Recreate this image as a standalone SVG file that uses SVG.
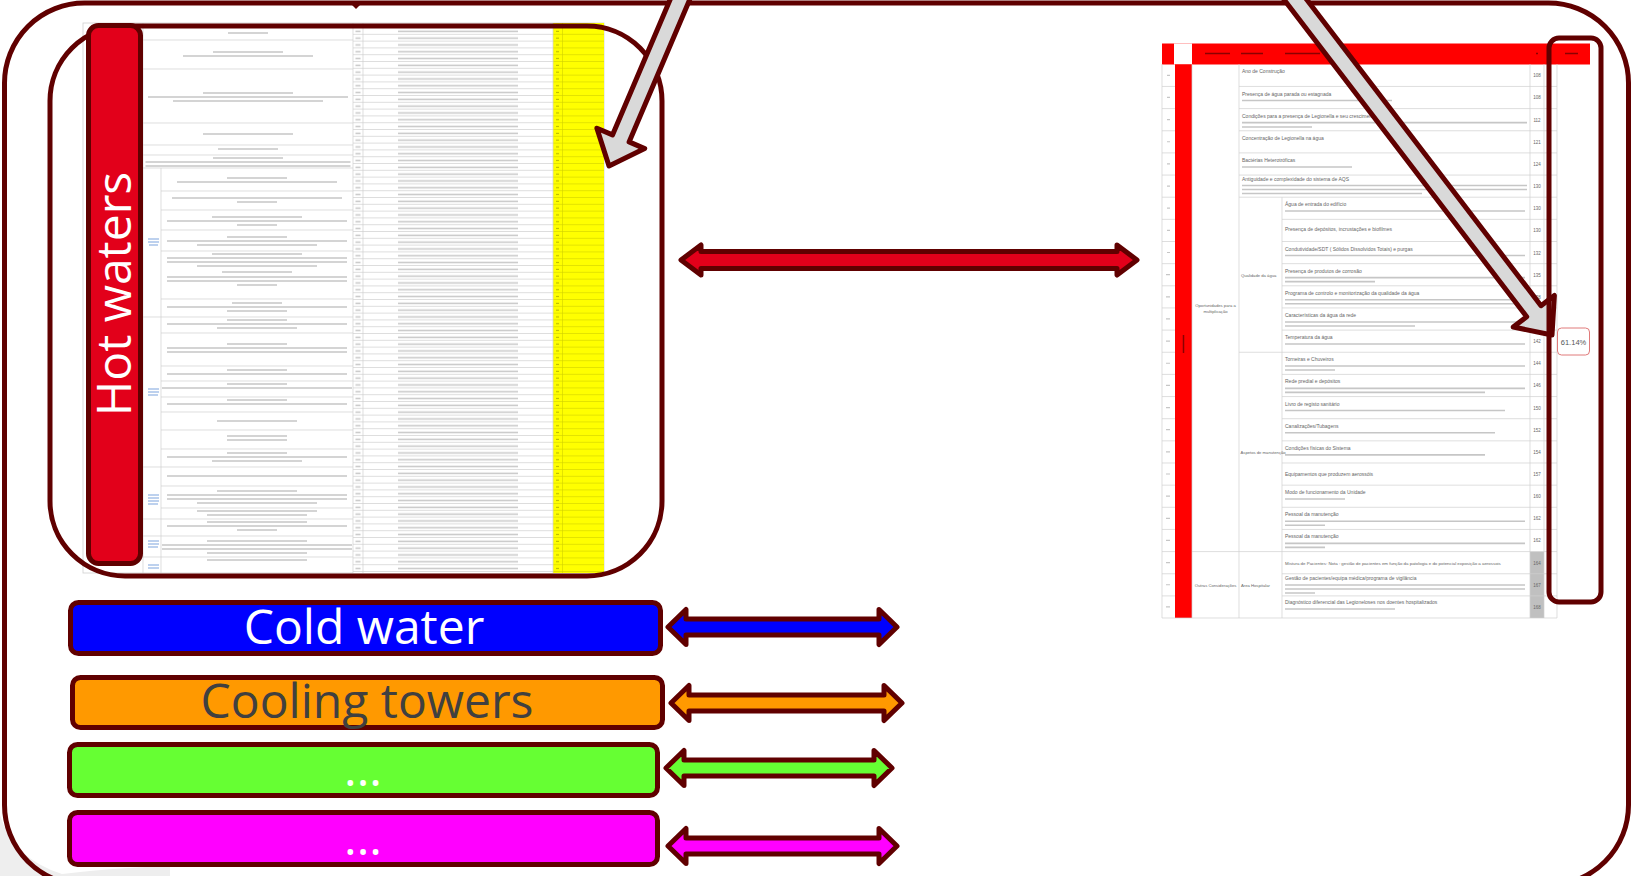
<svg xmlns="http://www.w3.org/2000/svg" width="1633" height="876" viewBox="0 0 1633 876">
<style>
.mar{stroke:#600000;stroke-width:5;stroke-linejoin:round}
.big{font-family:"Open Sans","Noto Sans","Liberation Sans",sans-serif;font-size:48px;text-anchor:middle}
.rt{font-family:"Liberation Sans",Arial,sans-serif;font-size:5px;fill:#666}
.lab{font-family:"Liberation Sans",Arial,sans-serif;font-size:4.2px;fill:#666}
.num{font-family:"Liberation Sans",Arial,sans-serif;font-size:4.5px;fill:#666;text-anchor:middle}
.grid{stroke:#d0d0d0;stroke-width:0.7;fill:none}
.blur{stroke:#c6c6c6;stroke-width:1.6;fill:none}
</style>
<defs>
<pattern id="rowsText" patternUnits="userSpaceOnUse" x="363" y="28" width="190" height="6.8">
<rect width="190" height="6.8" fill="#fff"/>
<rect y="6.2" width="190" height="0.6" fill="#c9c9c9"/>
<rect x="35" y="2.6" width="120" height="1.5" fill="#c8c8c8"/>
</pattern>
<pattern id="rowsNum" patternUnits="userSpaceOnUse" x="353" y="28" width="10" height="6.8">
<rect width="10" height="6.8" fill="#fff"/>
<rect y="6.2" width="10" height="0.6" fill="#c9c9c9"/>
<rect x="2.5" y="2.6" width="5" height="1.5" fill="#c8c8c8"/>
</pattern>
<pattern id="rowsYellow" patternUnits="userSpaceOnUse" x="553" y="28" width="51" height="6.8">
<rect width="51" height="6.8" fill="#ffff00"/>
<rect y="6.2" width="51" height="0.6" fill="#d2d200"/>
<rect x="3" y="2.8" width="3" height="1" fill="#b5b500"/>
<rect x="9" width="0.6" height="6.8" fill="#d2d200"/>
</pattern>
</defs>

<rect width="1633" height="876" fill="#fff"/>
<path d="M0,815 Q12,858 62,874 Q110,868 170,866 L170,876 L0,876 Z" fill="#eeeeee"/>

<g id="outer-frame">
<rect x="4.5" y="3" width="1624" height="882" rx="80" fill="none" class="mar"/>
<path d="M351,4 L361,4 L356,9 Z" fill="#600000"/>
</g>

<g id="sheet-hot-waters">
<rect x="83" y="23" width="521" height="550" fill="#fff" stroke="#cfcfcf" stroke-width="0.8"/>
<rect x="363" y="28" width="190" height="545" fill="url(#rowsText)"/>
<rect x="353" y="28" width="10" height="545" fill="url(#rowsNum)"/>
<rect x="553" y="23" width="51" height="550" fill="url(#rowsYellow)"/>
<path class="grid" d="M353 23V573 M363 23V573 M553 23V573 M161 168V573 M143 23V573
M143 40H353 M143 69H353 M143 123H353 M143 145H353 M143 155H353 M143 168H353
M161 191H353 M161 210H353 M161 230H353 M161 251H353 M161 299H353 M143 317H353 M161 333H353 M161 366H353 M161 381H353 M161 397H353 M161 412H353 M161 430H353 M161 449H353 M143 467H353 M161 486H353 M161 508H353 M143 519H353 M143 536H353 M143 557H353"/>
<path class="blur" d="M228 33h40 M213 52h70 M183 56h130 M203 93h90 M148 97h200 M173 101h150 M203 134h90 M218 149h60 M213 158h70 M145.5 162h205 M145.5 166h205
M227 178h60 M177 182h160 M172 198h170 M237 202h40 M212 217h90 M167 221h180 M237 225h40 M227 237h60 M167 241h180 M197 245h120
M212 254h90 M167 258h180 M167 262h180 M197 266h120 M222 272h70 M167 277h180 M167 281h180 M237 285h40 M232 303h50 M167 307h180 M227 311h60
M227 320h60 M167 324h180 M217 328h80 M227 344h60 M167 348h180 M167 352h180 M227 370h60 M167 374h180 M227 384h60 M162 388h190 M227 400h60 M167 404h180
M217 421h80 M227 436h60 M227 440h60 M227 453h60 M167 457h180 M212 461h90 M167 476h180 M217 491h80 M167 495h180 M167 499h180 M197 503h120
M197 511h120 M207 515h100 M207 522h100 M167 526h180 M237 530h40 M207 541h100 M162 545h190 M162 549h190 M207 553h100 M207 560h100"/>
<path d="M148 239h11 M148 242h11 M149 245h9 M148 389h11 M148 392h11 M148 395h10 M148 495h11 M148 498h11 M148 501h11 M148 504h10 M148 541h11 M148 544h11 M148 547h10 M148 565h11 M148 568h11" stroke="#7da3de" stroke-width="1.2" fill="none"/>
</g>

<g id="sheet-right">
<rect x="1162" y="43" width="428" height="575" fill="#fff"/>
<rect x="1162" y="43.5" width="428" height="21" fill="#ff0000"/>
<rect x="1174" y="43.5" width="18" height="21" fill="#fff"/>
<rect x="1175" y="64.3" width="17" height="553.7" fill="#ff0000"/>
<rect x="1530" y="551.6" width="14" height="66.4" fill="#c0c0c0"/>
<path d="M1205 53.5h25 M1241 53.5h22 M1285 53.5h35 M1536 53.5h2 M1565 53.5h13 M1183.5 335v18" stroke="#8b0000" stroke-width="1.5" fill="none"/>
<path class="grid" d="M1162 64V618 M1192 64V618 M1239 64V618 M1282 197.2V618 M1530 64V618 M1544 64V618 M1557 64V618
M1162 86.45H1175 M1162 108.6H1175 M1162 130.75H1175 M1162 152.9H1175 M1162 175.05H1175 M1162 197.2H1175 M1162 219.35H1175 M1162 241.5H1175 M1162 263.65H1175 M1162 285.8H1175 M1162 307.95H1175 M1162 330.1H1175 M1162 352.25H1175 M1162 374.4H1175 M1162 396.55H1175 M1162 418.7H1175 M1162 440.85H1175 M1162 463H1175 M1162 485.15H1175 M1162 507.3H1175 M1162 529.45H1175 M1162 551.6H1175 M1162 573.75H1175 M1162 595.9H1175
M1239 86.45H1557 M1239 108.6H1557 M1239 130.75H1557 M1239 152.9H1557 M1239 175.05H1557 M1239 197.2H1557
M1282 219.35H1557 M1282 241.5H1557 M1282 263.65H1557 M1282 285.8H1557 M1282 307.95H1557 M1282 330.1H1557 M1239 352.25H1557 M1282 374.4H1557 M1282 396.55H1557 M1282 418.7H1557 M1282 440.85H1557 M1282 463H1557 M1282 485.15H1557 M1282 507.3H1557 M1282 529.45H1557 M1192 551.6H1557 M1282 573.75H1557 M1282 595.9H1557 M1162 618H1557"/>
<path d="M1167 75.3h3 M1167 97.45h3 M1167 119.6h3 M1167 141.75h3 M1167 163.9h3 M1167 186.05h3 M1167 208.2h3 M1167 230.35h3 M1167 252.5h3 M1166 274.65h4 M1166 296.8h4 M1166 318.95h4 M1166 341.1h4 M1166 363.25h4 M1166 385.4h4 M1166 407.55h4 M1166 429.7h4 M1166 451.85h4 M1166 474h4 M1166 496.15h4 M1166 518.3h4 M1166 540.45h4 M1166 562.6h4 M1166 584.75h4 M1166 606.9h4" stroke="#c6c6c6" stroke-width="1.2" fill="none"/>
<path class="blur" d="M1242 100.5h150 M1242 122.6h285 M1242 127h70 M1242 167h110 M1242 185.5h285 M1242 189.5h285 M1242 193.5h180
M1285 211h240 M1285 255.5h240 M1285 277.6h240 M1285 281.6h90 M1285 299.8h240 M1285 303.8h240 M1285 322h240 M1285 326h130 M1285 344h240
M1285 366h240 M1285 370h50 M1285 388.4h240 M1285 392.4h200 M1285 410.5h220 M1285 432.7h210 M1285 454.9h200 M1285 499h60
M1285 521.3h240 M1285 525.3h40 M1285 543.4h240 M1285 547.4h40 M1285 585h240 M1285 589h240 M1285 593h30 M1285 609h110"/>
<text class="rt" x="1242" y="73">Ano de Construção</text>
<text class="rt" x="1242" y="95.5">Presença de água parada ou estagnada</text>
<text class="rt" x="1242" y="117.6">Condições para a presença de Legionella e seu crescimento</text>
<text class="rt" x="1242" y="139.8">Concentração de Legionella na água</text>
<text class="rt" x="1242" y="162">Bactérias Heterotróficas</text>
<text class="rt" x="1242" y="181">Antiguidade e complexidade do sistema de AQS</text>
<text class="rt" x="1285" y="206">Água de entrada do edifício</text>
<text class="rt" x="1285" y="231">Presença de depósitos, incrustações e biofilmes</text>
<text class="rt" x="1285" y="250.5">Condutividade/SDT ( Sólidos Dissolvidos Totais) e purgas</text>
<text class="rt" x="1285" y="272.6">Presença de produtos de corrosão</text>
<text class="rt" x="1285" y="294.8">Programa de controlo e monitorização da qualidade da água</text>
<text class="rt" x="1285" y="317">Características da água da rede</text>
<text class="rt" x="1285" y="339">Temperatura da água</text>
<text class="rt" x="1285" y="361">Torneiras e Chuveiros</text>
<text class="rt" x="1285" y="383.4">Rede predial e depósitos</text>
<text class="rt" x="1285" y="405.5">Livro de registo sanitário</text>
<text class="rt" x="1285" y="427.7">Canalizações/Tubagens</text>
<text class="rt" x="1285" y="449.9">Condições físicas do Sistema</text>
<text class="rt" x="1285" y="476">Equipamentos que produzem aerossóis</text>
<text class="rt" x="1285" y="494">Modo de funcionamento da Unidade</text>
<text class="rt" x="1285" y="516.3">Pessoal da manutenção</text>
<text class="rt" x="1285" y="538.4">Pessoal da manutenção</text>
<text class="rt" x="1285" y="564.6" style="font-size:4.4px">Mistura de Pacientes: Nota : gestão de pacientes em função da patologia e do potencial exposição a aerossois</text>
<text class="rt" x="1285" y="580">Gestão de pacientes/equipa médica/programa de vigilância</text>
<text class="rt" x="1285" y="604">Diagnóstico diferencial das Legioneloses nos doentes hospitalizados</text>
<text class="lab" x="1215.5" y="307" text-anchor="middle">Oportunidades para a</text>
<text class="lab" x="1215.5" y="312.5" text-anchor="middle">multiplicação</text>
<text class="lab" x="1241" y="276.5">Qualidade da água</text>
<text class="lab" x="1240.5" y="453.5">Aspetos de manutenção</text>
<text class="lab" x="1215.5" y="587" text-anchor="middle">Outras Considerações</text>
<text class="lab" x="1241" y="587">Área Hospitalar</text>
<text class="num" x="1537" y="77.3">108</text>
<text class="num" x="1537" y="99.45">108</text>
<text class="num" x="1537" y="121.6">112</text>
<text class="num" x="1537" y="143.75">121</text>
<text class="num" x="1537" y="165.9">124</text>
<text class="num" x="1537" y="188.05">130</text>
<text class="num" x="1537" y="210.2">130</text>
<text class="num" x="1537" y="232.35">130</text>
<text class="num" x="1537" y="254.5">132</text>
<text class="num" x="1537" y="276.65">135</text>
<text class="num" x="1537" y="298.8">138</text>
<text class="num" x="1537" y="320.95">140</text>
<text class="num" x="1537" y="343.1">142</text>
<text class="num" x="1537" y="365.25">144</text>
<text class="num" x="1537" y="387.4">146</text>
<text class="num" x="1537" y="409.55">150</text>
<text class="num" x="1537" y="431.7">152</text>
<text class="num" x="1537" y="453.85">154</text>
<text class="num" x="1537" y="476">157</text>
<text class="num" x="1537" y="498.15">160</text>
<text class="num" x="1537" y="520.3">162</text>
<text class="num" x="1537" y="542.45">162</text>
<text class="num" x="1537" y="564.6">164</text>
<text class="num" x="1537" y="586.75">167</text>
<text class="num" x="1537" y="608.9">168</text>
<rect x="1557.5" y="328" width="32" height="27" rx="4" fill="#fff" stroke="#e07a7a" stroke-width="1"/>
<text x="1573.5" y="344.5" text-anchor="middle" font-family="Liberation Sans, Arial, sans-serif" font-size="7.5" fill="#555">61.14%</text>
</g>

<g id="inner-frame">
<rect x="50" y="26" width="612" height="550" rx="75" fill="none" class="mar"/>
</g>

<g id="hot-waters">
<rect x="88.5" y="25.5" width="52" height="538" rx="10" fill="#e2001a" class="mar"/>
<text class="big" transform="translate(131,294) rotate(-90)" fill="#fff">Hot waters</text>
</g>

<g id="connectors">
<polygon class="mar" fill="#d9d9d9" points="692.3,-6.5 629.1,141.9 644.7,148.6 609,166 596.9,128.2 612.5,134.9 675.7,-13.5"/>
<polygon class="mar" fill="#d9d9d9" points="1295.2,-15.5 1541,305.7 1554.4,295.4 1552,335 1513.2,327 1526.7,316.7 1280.9,-4.5"/>
<path class="mar" fill="#e2001a" d="M681,260 L701,245 L701,251.5 L1117,251.5 L1117,245 L1137,260 L1117,275 L1117,268.5 L701,268.5 L701,275 Z"/>
<path class="mar" fill="#0000ff" d="M668,627 L686,609.5 L686,619 L879,619 L879,609.5 L897,627 L879,644.5 L879,635 L686,635 L686,644.5 Z"/>
<path class="mar" fill="#ff9900" d="M671,703 L689,685.5 L689,695 L884,695 L884,685.5 L902,703 L884,720.5 L884,711 L689,711 L689,720.5 Z"/>
<path class="mar" fill="#66ff33" d="M666,768 L684,750.5 L684,760 L874,760 L874,750.5 L892,768 L874,785.5 L874,776 L684,776 L684,785.5 Z"/>
<path class="mar" fill="#ff00ff" d="M668,846 L686,828.5 L686,838 L879,838 L879,828.5 L897,846 L879,863.5 L879,854 L686,854 L686,863.5 Z"/>
</g>

<g id="score-column-frame">
<rect x="1549" y="38" width="52" height="564" rx="10" fill="none" class="mar"/>
</g>

<g id="cold-water">
<rect x="70.5" y="602.5" width="590" height="51" rx="8" fill="#0000ff" class="mar"/>
<text class="big" x="364" y="644" fill="#fff">Cold water</text>
</g>
<g id="cooling-towers">
<rect x="72.5" y="677.5" width="590" height="50" rx="8" fill="#ff9900" class="mar"/>
<text class="big" x="367" y="718" fill="#404040">Cooling towers</text>
</g>
<g id="other-1">
<rect x="69.5" y="744.5" width="588" height="51" rx="8" fill="#66ff33" class="mar"/>
<text class="big" x="363" y="786" fill="#fff">...</text>
</g>
<g id="other-2">
<rect x="69.5" y="812.5" width="588" height="52" rx="8" fill="#ff00ff" class="mar"/>
<text class="big" x="363" y="855" fill="#fff">...</text>
</g>
</svg>
